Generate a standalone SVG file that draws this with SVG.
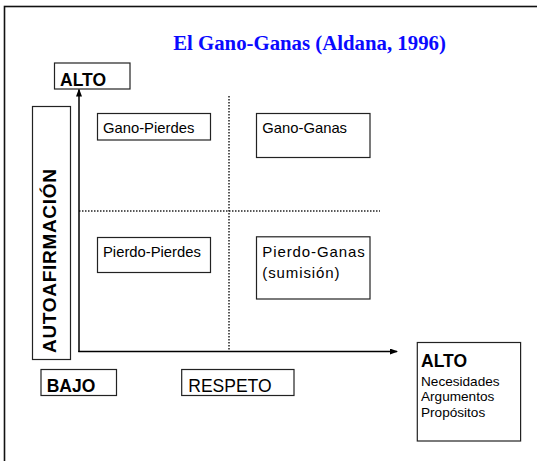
<svg xmlns="http://www.w3.org/2000/svg" width="537" height="461" viewBox="0 0 537 461">
<style>
.box{fill:#fff;stroke:#222;stroke-width:1.2}
.t{font-family:"Liberation Sans",Arial,sans-serif;fill:#000}
.b{font-weight:bold}
.axis{stroke:#000;stroke-width:1.5;fill:none}
.dot{stroke:#222;stroke-width:1.5;stroke-dasharray:1.5 1.5;fill:none}
</style>
<defs>
<marker id="arr" markerWidth="8" markerHeight="6" refX="7" refY="3" orient="auto" markerUnits="userSpaceOnUse">
<path d="M0,0 L8,3 L0,6 Z" fill="#000"/>
</marker>
</defs>
<rect x="0" y="0" width="537" height="461" fill="#fff"/>
<rect id="frame" x="4.5" y="6.5" width="600" height="600" fill="none" stroke="#111" stroke-width="1.6"/>
<text id="title" x="309.5" y="50" text-anchor="middle" font-family="'Liberation Serif','Times New Roman',serif" font-weight="bold" font-size="20.8" fill="#0a0aff">El Gano-Ganas (Aldana, 1996)</text>
<g id="connectors">
<line class="dot" x1="229" y1="96" x2="229" y2="351"/>
<line class="dot" x1="79" y1="211" x2="380" y2="211"/>
<line class="axis" x1="79" y1="352" x2="79" y2="89.5" marker-end="url(#arr)"/>
<line class="axis" x1="78.3" y1="351.5" x2="397" y2="351.5" marker-end="url(#arr)"/>
</g>
<g id="alto-top">
<rect class="box" x="54.5" y="63" width="75.5" height="26"/>
<text class="t b" x="60" y="85.5" font-size="17.5">ALTO</text>
</g>
<g id="autoafirmacion">
<rect class="box" x="32.5" y="106.5" width="38" height="253"/>
<text class="t b" transform="translate(55.5,353) rotate(-90)" font-size="19" letter-spacing="0.7">AUTOAFIRMACIÓN</text>
</g>
<g id="gano-pierdes">
<rect class="box" x="97.5" y="113.5" width="113" height="26.5"/>
<text class="t" x="103" y="133.3" font-size="14.8">Gano-Pierdes</text>
</g>
<g id="gano-ganas">
<rect class="box" x="256.5" y="113.5" width="113.5" height="44"/>
<text class="t" x="262.3" y="133.3" font-size="14.8">Gano-Ganas</text>
</g>
<g id="pierdo-pierdes">
<rect class="box" x="97.5" y="237.5" width="113" height="35"/>
<text class="t" x="103" y="256.7" font-size="14.8">Pierdo-Pierdes</text>
</g>
<g id="pierdo-ganas">
<rect class="box" x="256.5" y="236.8" width="113.5" height="62.2"/>
<text class="t" x="262.3" y="257.3" font-size="15" letter-spacing="0.9">Pierdo-Ganas</text>
<text class="t" x="262.3" y="277.5" font-size="15" letter-spacing="0.9">(sumisión)</text>
</g>
<g id="bajo">
<rect class="box" x="41" y="369.5" width="75.5" height="26"/>
<text class="t b" x="46.7" y="391.7" font-size="17.5">BAJO</text>
</g>
<g id="respeto">
<rect class="box" x="181.7" y="369.5" width="112.3" height="26"/>
<text class="t" x="188.3" y="391.5" font-size="17.5">RESPETO</text>
</g>
<g id="alto-right">
<rect class="box" x="417.3" y="342.5" width="103.3" height="98.5"/>
<text class="t b" x="421" y="366.7" font-size="17.5">ALTO</text>
<text class="t" x="421" y="386" font-size="13.6">Necesidades</text>
<text class="t" x="421" y="401.3" font-size="13.6">Argumentos</text>
<text class="t" x="421" y="416.8" font-size="13.6">Propósitos</text>
</g>
</svg>
